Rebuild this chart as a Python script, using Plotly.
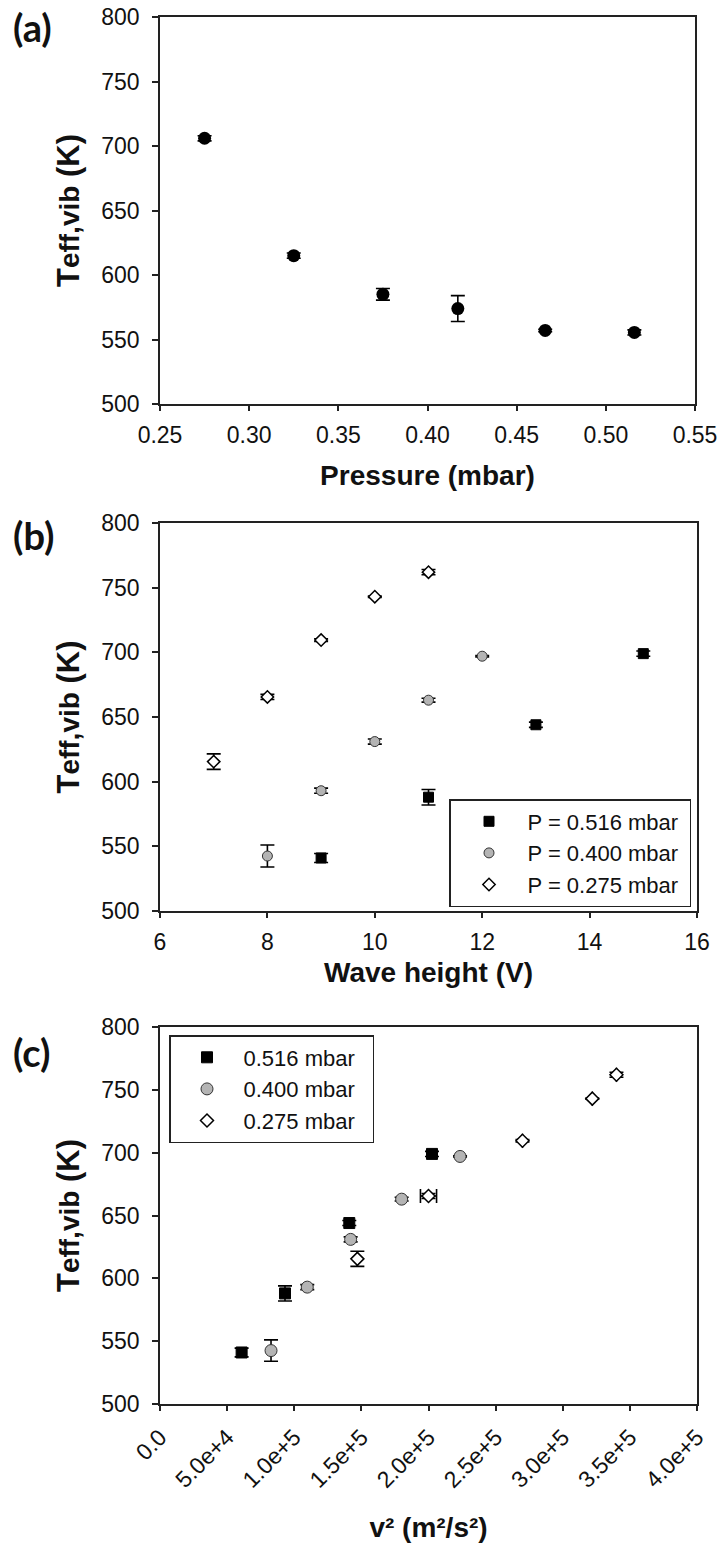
import plotly.graph_objects as go

W, H = 721, 1543

# ---------------- data ----------------
# (a) pressure series
press = [0.275, 0.325, 0.375, 0.417, 0.466, 0.516]
teff_a = [706, 615, 585, 574, 557, 555.5]
err_a = [2, 2, 4.5, 10, 1, 2]

# (b) wave height series
wh_516 = [9, 11, 13, 15]
t_516 = [541, 588, 644, 699]
e_516 = [3.5, 6, 2, 2]

wh_400 = [8, 9, 10, 11, 12]
t_400 = [542.5, 593, 631, 663, 697]
e_400 = [8.5, 2, 2, 1.5, 0.5]

wh_275 = [7, 8, 9, 10, 11]
t_275 = [615.5, 665.5, 709.5, 743, 762]
e_275 = [6, 2, 1, 0.5, 2]

# (c) v^2 series (m^2/s^2)
v2_516 = [60800, 93100, 141000, 202600]
v2_400 = [82700, 109700, 142000, 180000, 223500]
v2_275 = [147000, 200000, 270000, 322000, 340000]
v2err_275 = [0, 6000, 0, 0, 0]

xc_ticks = [0, 50000, 100000, 150000, 200000, 250000, 300000, 350000, 400000]
xc_ticktext = ["0.0", "5.0e+4", "1.0e+5", "1.5e+5", "2.0e+5", "2.5e+5", "3.0e+5", "3.5e+5", "4.0e+5"]

names_b = ["P = 0.516 mbar", "P = 0.400 mbar", "P = 0.275 mbar"]
names_c = ["0.516 mbar", "0.400 mbar", "0.275 mbar"]

# ---------------- helpers ----------------
FONT = "Arial, Liberation Sans, sans-serif"
LC = "#222222"
TXT = "#111111"
PAD_B = "\u00a0"
PAD_C = "\u00a0\u00a0"


def px_x(a, b):
    return [a / W, b / W]


def px_y(top, bot):
    return [(H - bot) / H, (H - top) / H]


def ebar(arr):
    return dict(type="data", array=arr, color="black", thickness=1.6, width=7, visible=True)


fig = go.Figure()

# (a)
fig.add_trace(go.Scatter(x=press, y=teff_a, mode="markers", xaxis="x", yaxis="y",
                         marker=dict(symbol="circle", size=13, color="black"),
                         error_y=ebar(err_a), showlegend=False))

# (b)
fig.add_trace(go.Scatter(x=wh_516, y=t_516, mode="markers", xaxis="x2", yaxis="y2",
                         name=names_b[0] + PAD_B, legend="legend",
                         marker=dict(symbol="square", size=10, color="black",
                                     line=dict(color="black", width=1)),
                         error_y=ebar(e_516)))
fig.add_trace(go.Scatter(x=wh_400, y=t_400, mode="markers", xaxis="x2", yaxis="y2",
                         name=names_b[1] + PAD_B, legend="legend",
                         marker=dict(symbol="circle", size=10, color="#b4b4b4",
                                     line=dict(color="#333333", width=1)),
                         error_y=ebar(e_400)))
fig.add_trace(go.Scatter(x=wh_275, y=t_275, mode="markers", xaxis="x2", yaxis="y2",
                         name=names_b[2] + PAD_B, legend="legend",
                         marker=dict(symbol="diamond", size=9.5, color="white",
                                     line=dict(color="black", width=1.5)),
                         error_y=ebar(e_275)))

# (c)
fig.add_trace(go.Scatter(x=v2_516, y=t_516, mode="markers", xaxis="x3", yaxis="y3",
                         name=names_c[0] + PAD_C, legend="legend2",
                         marker=dict(symbol="square", size=11, color="black",
                                     line=dict(color="black", width=1)),
                         error_y=ebar(e_516)))
fig.add_trace(go.Scatter(x=v2_400, y=t_400, mode="markers", xaxis="x3", yaxis="y3",
                         name=names_c[1] + PAD_C, legend="legend2",
                         marker=dict(symbol="circle", size=12, color="#b4b4b4",
                                     line=dict(color="#333333", width=1)),
                         error_y=ebar(e_400)))
fig.add_trace(go.Scatter(x=v2_275, y=t_275, mode="markers", xaxis="x3", yaxis="y3",
                         name=names_c[2] + PAD_C, legend="legend2",
                         marker=dict(symbol="diamond", size=10, color="white",
                                     line=dict(color="black", width=1.5)),
                         error_y=ebar(e_275),
                         error_x=dict(type="data", array=v2err_275, color="black",
                                      thickness=1.6, width=7, visible=True)))

ytitle = ("<span style='font-size:31px'>T</span>"
          "<span style='font-size:28px'>eff,vib</span> (K)")

common_axis = dict(showline=True, mirror=True, linecolor=LC, linewidth=1.6,
                   ticks="outside", ticklen=5, tickwidth=1.5, tickcolor=LC,
                   showgrid=False, zeroline=False, automargin=False,
                   tickfont=dict(family=FONT, size=23, color=TXT))


def yax(dom, anchor):
    return dict(common_axis, domain=dom, anchor=anchor, range=[500, 800], dtick=50,
                ticklen=6, ticklabelstandoff=8,
                title=dict(text=ytitle, font=dict(family=FONT, size=31, color=TXT,
                                                  weight="bold"), standoff=12))


def xtitle(text, standoff):
    return dict(text=text, standoff=standoff,
                font=dict(family=FONT, size=28, color=TXT, weight="bold"))


fig.update_layout(
    width=W, height=H, margin=dict(l=0, r=0, t=0, b=0, autoexpand=False),
    paper_bgcolor="white", plot_bgcolor="white",
    xaxis=dict(common_axis, domain=px_x(160, 695), anchor="y", range=[0.25, 0.55],
               dtick=0.05, tickformat=".2f", ticklabelstandoff=5,
               title=xtitle("Pressure (mbar)", 18)),
    yaxis=yax(px_y(17, 404), "x"),
    xaxis2=dict(common_axis, domain=px_x(160, 697), anchor="y2", range=[6, 16], dtick=2,
                ticklabelstandoff=5, title=xtitle("Wave height (V)", 8)),
    yaxis2=yax(px_y(523, 911), "x2"),
    xaxis3=dict(common_axis, domain=px_x(160, 697), anchor="y3", range=[0, 400000],
                tickvals=xc_ticks, ticktext=xc_ticktext, tickangle=-45,
                ticklabelstandoff=4, title=xtitle("v² (m²/s²)", 26)),
    yaxis3=yax(px_y(1027, 1404), "x3"),
    legend=dict(x=449 / W, y=(H - 799) / H, xanchor="left", yanchor="top",
                bgcolor="white", bordercolor=LC, borderwidth=1.5,
                font=dict(family=FONT, size=22, color=TXT),
                itemwidth=67, tracegroupgap=0),
    legend2=dict(x=169 / W, y=(H - 1035) / H, xanchor="left", yanchor="top",
                 bgcolor="white", bordercolor=LC, borderwidth=1.5,
                 font=dict(family=FONT, size=22, color=TXT),
                 itemwidth=63, tracegroupgap=0),
)

for lab, ypx in [("(a)", 27), ("(b)", 535), ("(c)", 1052)]:
    fig.add_annotation(text=lab, xref="paper", yref="paper", x=11 / W, y=(H - ypx) / H,
                       xanchor="left", yanchor="middle", showarrow=False,
                       font=dict(family="Lato, Open Sans, sans-serif", size=38,
                                 color=TXT, weight="bold"))

fig.write_html(
    "out.html",
    config={"displayModeBar": False},
    post_script="document.body.style.margin='0';document.body.style.overflow='hidden';",
)
